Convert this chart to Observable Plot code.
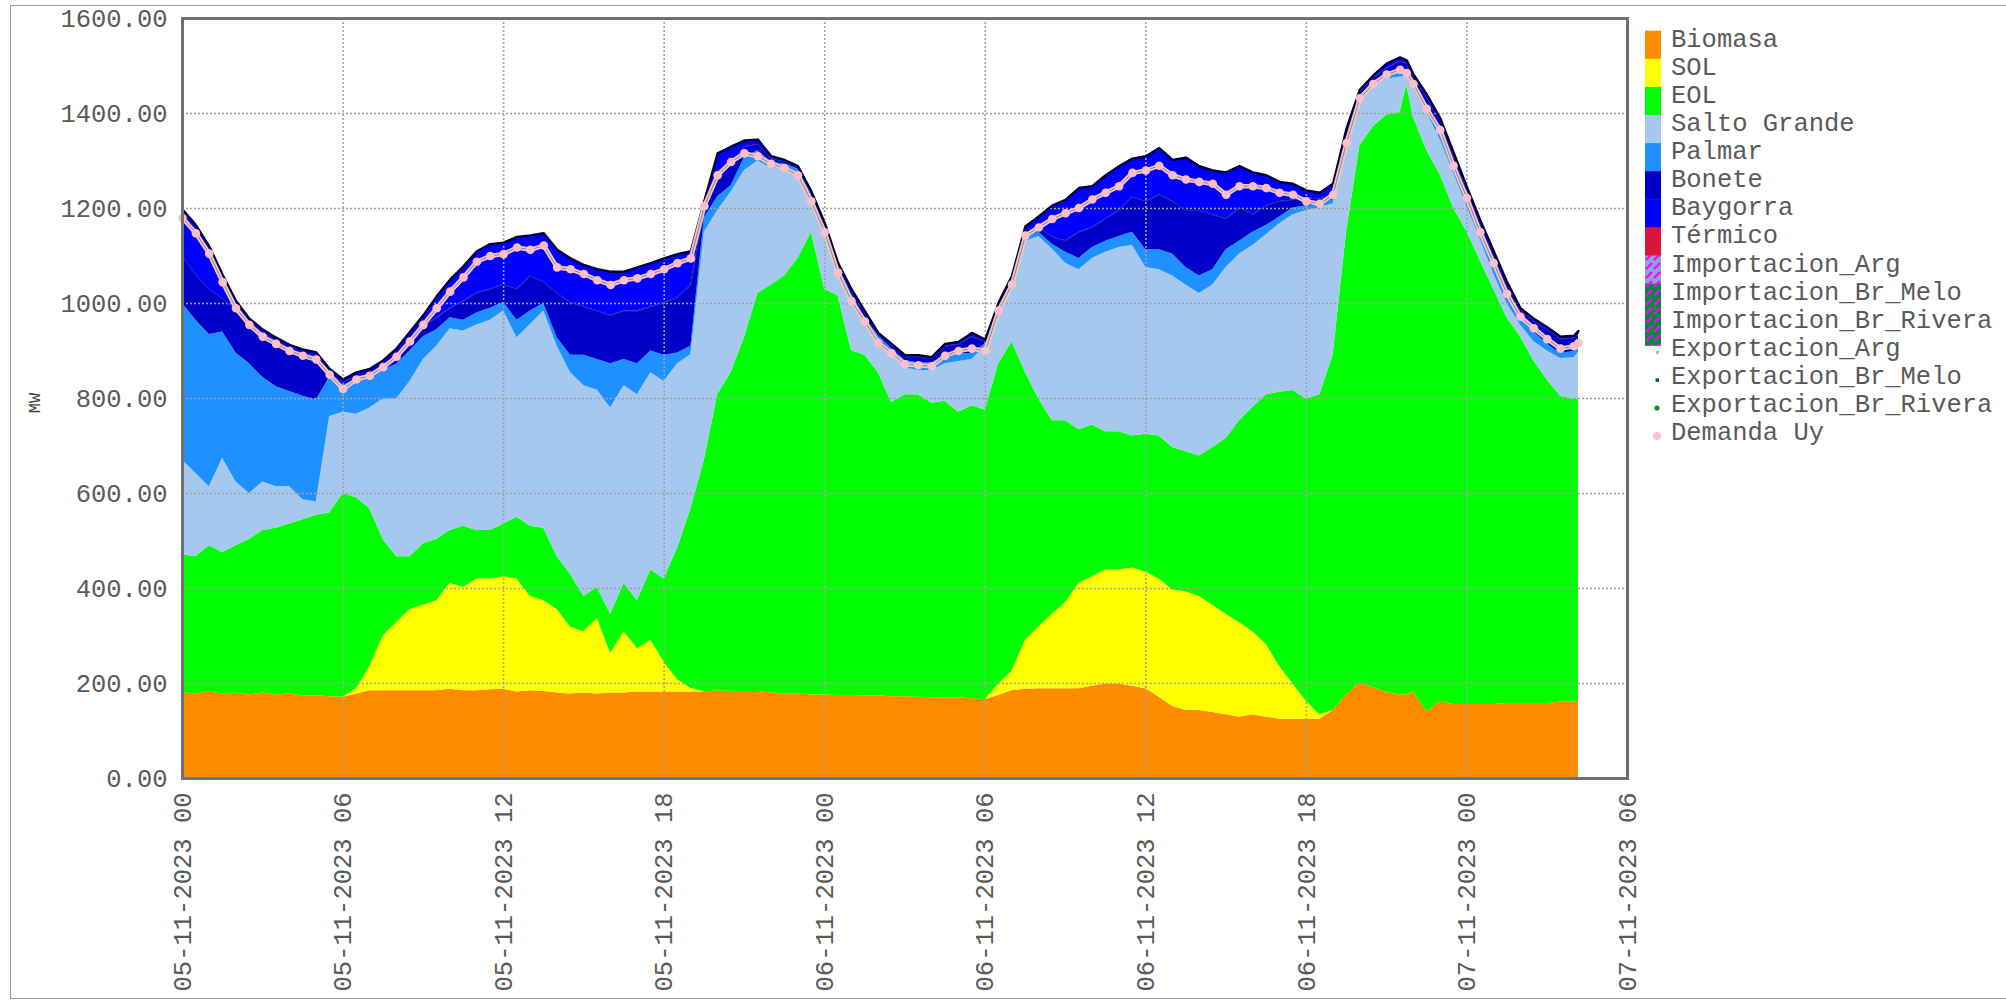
<!DOCTYPE html>
<html><head><meta charset="utf-8">
<script src="https://cdn.jsdelivr.net/npm/d3@7"></script>
<script src="https://cdn.jsdelivr.net/npm/@observablehq/plot@0.6"></script>
<style>
html,body{margin:0;padding:0;background:#fff;}
body{width:2006px;height:1002px;position:relative;overflow:hidden;font-family:'Liberation Mono','DejaVu Sans Mono',monospace;}
#chart{position:absolute;left:0;top:0;}
#border{position:absolute;left:10px;top:5px;width:2010px;height:994px;border:1.5px solid #9a9a9a;box-sizing:border-box;pointer-events:none;}
#ylabel{position:absolute;left:16px;top:393px;width:40px;height:20px;line-height:20px;text-align:center;font-size:17px;color:#444;transform:rotate(-90deg);}
#legend{position:absolute;left:0;top:0;pointer-events:none;}
</style></head><body>
<div id="chart"></div>
<div id="border"></div>
<div id="ylabel">MW</div>
<svg id="legend" width="2006" height="1002"></svg>
<script>
// ---------- DATA (MW) ----------
// hours after 05-11-2023 00:00
const hours = [
 0,0.5,1,1.5,2,2.5,3,3.5,4,4.5,
 5,5.5,6,6.5,7,7.5,8,8.5,9,9.5,
 10,10.5,11,11.5,12,12.5,13,13.5,14,14.5,
 15,15.5,16,16.5,17,17.5,18,18.5,19,19.5,
 20,20.5,21,21.5,22,22.5,23,23.5,24,24.5,
 25,25.5,26,26.5,27,27.5,28,28.5,29,29.5,
 30,30.5,31,31.5,32,32.5,33,33.5,34,34.5,
 35,35.5,36,36.5,37,37.5,38,38.5,39,39.5,
 40,40.5,41,41.5,42,42.5,43,43.5,44,44.5,
 45,45.5,45.75,46,46.5,47,47.5,48,48.5,49,
 49.5,50,50.5,51,51.5,52,52.17];

const biomasa = [
 180,178,182,178,180,176,180,176,178,174,
 174,172,171,178,185,185,185,185,185,185,
 188,185,185,187,188,182,185,183,180,178,
 180,178,180,180,182,182,182,182,182,182,
 185,183,183,183,180,178,178,176,176,175,
 175,174,174,172,172,171,170,170,170,168,
 166,175,185,188,189,189,189,189,194,199,
 199,194,189,171,152,143,143,139,134,129,
 134,129,125,125,125,125,143,176,201,191,
 181,176,176,181,141,161,156,156,156,156,
 158,158,158,158,161,161,163];

const sol = [
 0,0,0,0,0,0,0,0,0,0,
 0,0,0,11,51,115,143,171,180,189,
 223,217,235,233,237,238,198,191,176,141,
 129,159,83,129,91,109,63,26,8,0,
 0,0,0,0,0,0,0,0,0,0,
 0,0,0,0,0,0,0,0,0,0,
 0,24,41,103,130,157,181,222,231,240,
 240,249,245,249,245,250,240,226,212,199,
 175,153,111,74,37,9,0,0,0,0,
 0,0,0,0,0,0,0,0,0,0,
 0,0,0,0,0,0,0];

const eol = [
 291,289,308,298,310,327,342,351,358,371,
 380,387,429,402,332,203,139,111,129,129,
 111,129,102,102,111,130,148,153,111,111,
 74,65,83,102,101,148,175,277,378,488,
 623,671,745,838,859,880,917,974,854,841,
 726,717,681,619,636,637,620,624,601,617,
 610,674,693,564,480,407,383,323,319,291,
 291,278,291,301,300,295,296,332,370,425,
 472,526,577,618,637,674,748,974,1131,1181,
 1216,1226,1284,1211,1181,1110,1045,995,934,874,
 812,772,721,681,643,638,636];

const saltoGrande = [
 199,175,124,198,134,97,102,87,78,42,
 28,203,171,176,212,296,332,369,388,407,
 425,411,433,443,448,378,425,457,443,424,
 444,416,434,416,434,415,416,388,324,480,
 388,381,352,279,246,226,180,74,120,55,
 111,70,69,100,56,51,69,79,107,97,
 134,111,120,276,342,362,332,337,351,378,
 388,401,351,350,361,351,342,342,360,351,
 341,337,355,370,397,393,319,180,90,90,
 75,75,18,60,80,74,74,54,45,32,
 30,25,41,61,80,87,98];

const palmar = [
 330,323,321,266,272,273,221,211,201,218,
 215,83,57,73,65,61,73,64,48,35,
 23,23,25,25,18,37,28,16,18,37,
 64,64,93,55,65,46,55,23,18,30,
 29,13,27,22,13,9,8,6,8,7,
 8,9,8,14,16,16,16,17,17,13,
 5,8,6,9,9,10,23,24,23,23,
 23,28,37,42,46,37,37,32,37,27,
 28,19,14,14,10,7,9,15,13,6,
 8,11,8,10,16,20,15,13,15,20,
 20,17,20,15,11,13,12];

const bonete = [
 100,95,95,70,89,87,93,95,90,90,
 91,5,5,6,5,8,13,15,20,25,
 20,40,42,40,38,65,74,45,93,111,
 102,102,102,102,111,93,111,116,129,20,
 55,42,23,13,7,5,4,3,7,4,
 6,10,3,7,8,12,9,20,19,35,
 5,6,7,15,10,15,24,55,42,47,
 55,74,102,116,111,120,138,116,65,70,
 37,42,33,17,16,12,9,15,10,7,
 15,22,19,13,17,20,20,20,20,23,
 20,13,22,30,30,28,28];

const baygorra = [
 98,105,90,50,20,8,7,8,8,8,
 9,12,7,9,12,12,20,25,25,45,
 60,73,88,95,88,110,85,103,92,93,
 88,88,92,83,92,92,93,92,71,15,
 36,40,13,10,5,4,2,3,4,3,
 4,4,3,3,3,4,3,5,5,8,
 4,4,6,7,23,66,86,93,87,92,
 93,81,95,98,87,111,93,93,98,88,
 89,64,41,34,16,13,24,8,5,5,
 10,8,7,7,5,5,8,7,5,5,
 5,5,6,5,5,5,5];

const demandaUy = [
 1180,1148,1105,1045,990,955,930,915,900,890,
 882,850,820,840,848,866,888,920,955,990,
 1025,1055,1088,1100,1104,1118,1113,1122,1076,1072,
 1062,1049,1039,1049,1053,1062,1072,1085,1095,1205,
 1270,1298,1316,1310,1294,1285,1270,1215,1150,1065,
 1005,962,917,895,872,870,868,890,900,905,
 900,985,1040,1143,1160,1178,1190,1201,1219,1233,
 1247,1275,1280,1290,1270,1261,1256,1252,1229,1247,
 1247,1243,1233,1229,1215,1210,1229,1338,1432,1462,
 1482,1492,1485,1462,1410,1365,1290,1222,1150,1085,
 1020,972,948,925,905,910,917];

const stackOrder = ["Biomasa","SOL","EOL","Salto Grande","Palmar","Bonete","Baygorra"];
const legendNames = ["Biomasa","SOL","EOL","Salto Grande","Palmar","Bonete","Baygorra","Térmico",
  "Importacion_Arg","Importacion_Br_Melo","Importacion_Br_Rivera",
  "Exportacion_Arg","Exportacion_Br_Melo","Exportacion_Br_Rivera","Demanda Uy"];
const yTicks = [0,200,400,600,800,1000,1200,1400,1600];
const xTickHours = [0,6,12,18,24,30,36,42,48,54];

// ---------- STYLE ----------
const colors = {
  "Biomasa":"#ff8c00","SOL":"#ffff00","EOL":"#00ff00","Salto Grande":"#a6c8ee",
  "Palmar":"#1e90ff","Bonete":"#0000c8","Baygorra":"#0000ff","Térmico":"#dc143c",
  "Importacion_Arg":"#87a6d8","Importacion_Br_Melo":"#008a3e","Importacion_Br_Rivera":"#008a3e"
};

// ---------- BUILD ----------
const seriesValues = {"Biomasa":biomasa,"SOL":sol,"EOL":eol,"Salto Grande":saltoGrande,
  "Palmar":palmar,"Bonete":bonete,"Baygorra":baygorra};
const start = new Date(2023, 10, 5, 0, 0);
const times = hours.map(h => d3.timeMinute.offset(start, Math.round(h*60)));
const long = stackOrder.flatMap(name => times.map((t,i) => ({time:t, series:name, value:seriesValues[name][i]})));
const rows = times.map((t,i) => ({
  time: t,
  demand: demandaUy[i],
  total: d3.sum(stackOrder, k => seriesValues[k][i]),
  boneteTop: d3.sum(stackOrder.slice(0,6), k => seriesValues[k][i])
}));
const xTicks = xTickHours.map(h => d3.timeHour.offset(start, h));
const end = xTicks[xTicks.length-1];
const gridStyle = {stroke:"#a3a3a3", strokeWidth:1.6, strokeDasharray:"2,2"};

const chart = Plot.plot({
  width: 2006, height: 1002,
  marginLeft: 182, marginRight: 379, marginTop: 18, marginBottom: 224,
  style: {fontFamily:"'Liberation Mono','DejaVu Sans Mono',monospace", fontSize:"25.5px", color:"#5a5a5a", background:"transparent", overflow:"visible"},
  x: {type:"time", domain:[start, end], ticks: xTicks, tickFormat: d3.timeFormat("%d-%m-%Y %H"), tickRotate:-90, tickSize:0, tickPadding:14, label:null},
  y: {domain:[0,1600], ticks: yTicks, tickFormat: d3.format(".2f"), tickSize:0, tickPadding:15, label:null},
  color: {domain: stackOrder, range: stackOrder.map(k => colors[k])},
  marks: [
    Plot.areaY(long, {x:"time", y:"value", fill:"series", z:"series", order: stackOrder, curve:"linear"}),
    Plot.ruleY(yTicks.slice(1,-1), gridStyle),
    Plot.ruleX(xTicks.slice(1,-1), gridStyle),
    Plot.lineY(rows, {x:"time", y:"boneteTop", stroke:"#2a2aa8", strokeWidth:1}),
    Plot.lineY(rows, {x:"time", y:"total", stroke:"#00003c", strokeWidth:2.5}),
    Plot.lineY(rows, {x:"time", y:"demand", stroke:"#ffbfca", strokeWidth:4.5}),
    Plot.lineY(rows, {x:"time", y:"demand", stroke:"#5f9c7c", strokeWidth:1}),
    Plot.dot(rows, {x:"time", y:"demand", r:4.3, fill:"#ffbfca", stroke:"none"}),
    Plot.frame({stroke:"#707070", strokeWidth:3})
  ]
});
document.getElementById("chart").appendChild(chart);

// ---------- LEGEND ----------
const lg = d3.select("#legend");
const defs = lg.append("defs");
function hatch(id, base) {
  const p = defs.append("pattern").attr("id", id).attr("width", 8).attr("height", 9).attr("patternUnits","userSpaceOnUse").attr("x",1645).attr("y",0);
  p.append("rect").attr("width",8).attr("height",9).attr("fill", base);
  p.append("path").attr("d","M1,8 L7,2").attr("stroke","#ff00ff").attr("stroke-width",2.4);
}
hatch("hArg", colors["Importacion_Arg"]);
hatch("hBr", colors["Importacion_Br_Melo"]);
const swX = 1645, swW = 16, rowH = 28.1, top0 = 30.7, base0 = 46.7;
legendNames.forEach((name, i) => {
  const rowTop = top0 + rowH*i;
  const baseline = base0 + rowH*i;
  if (i <= 7) {
    lg.append("rect").attr("x", swX).attr("y", rowTop).attr("width", swW).attr("height", rowH+0.5).attr("fill", colors[name]);
  } else if (i === 8) {
    lg.append("rect").attr("x", swX).attr("y", rowTop).attr("width", swW).attr("height", rowH+0.5).attr("fill", "url(#hArg)");
  } else if (i === 9 || i === 10) {
    lg.append("rect").attr("x", swX).attr("y", rowTop).attr("width", swW).attr("height", i===10 ? rowH+6 : rowH+0.5).attr("fill", "url(#hBr)");
  } else if (i === 11) {
    lg.append("rect").attr("x", 1656).attr("y", baseline-5).attr("width", 3).attr("height", 3).attr("fill", "#9cbbe0");
  } else if (i === 12) {
    lg.append("rect").attr("x", 1655.5).attr("y", baseline-5.5).attr("width", 3.5).attr("height", 3.5).attr("fill", "#00662e");
  } else if (i === 13) {
    lg.append("circle").attr("cx", 1657).attr("cy", baseline-4).attr("r", 2.6).attr("fill", "#0a8c3c");
  } else {
    lg.append("circle").attr("cx", 1657).attr("cy", baseline-4).attr("r", 4).attr("fill", "#ffbfca");
  }
  lg.append("text").attr("x", 1671).attr("y", baseline).attr("fill", "#5a5a5a")
    .style("font-family", "'Liberation Mono','DejaVu Sans Mono',monospace").style("font-size", "25.5px")
    .text(name);
});
</script>
</body></html>
